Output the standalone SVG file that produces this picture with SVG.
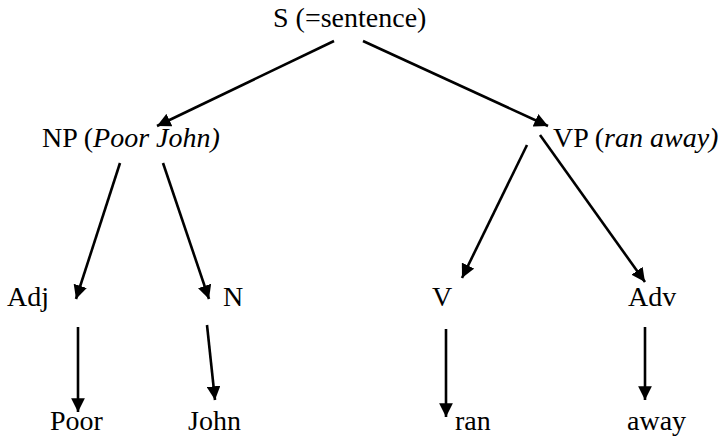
<svg xmlns="http://www.w3.org/2000/svg" width="725" height="439" viewBox="0 0 725 439">
  <style>
    .lbl { font-family: "Liberation Serif", "Times New Roman", serif; font-size: 28px; fill: #000; }
    .it { font-style: italic; }
    .edge { stroke: #000; stroke-width: 2.6; fill: none; marker-end: url(#arrow); }
  </style>
  <defs>
    <marker id="arrow" viewBox="0 0 10 10" refX="10" refY="5" markerWidth="5.3" markerHeight="5.3" markerUnits="strokeWidth" orient="auto">
      <path d="M0,0 L10,5 L0,10 z" fill="#000"/>
    </marker>
  </defs>
  <rect width="725" height="439" fill="#fff"/>

  <!-- connectors -->
  <g id="edges">
    <line class="edge" x1="334" y1="41" x2="157" y2="126"/>
    <line class="edge" x1="363" y1="41" x2="548" y2="126"/>
    <line class="edge" x1="120" y1="163" x2="76" y2="299"/>
    <line class="edge" x1="163" y1="163" x2="209" y2="299"/>
    <line class="edge" x1="527" y1="145" x2="462" y2="278"/>
    <line class="edge" x1="540" y1="135" x2="645" y2="282"/>
    <line class="edge" x1="78" y1="327" x2="78" y2="412"/>
    <line class="edge" x1="207" y1="325" x2="215" y2="400"/>
    <line class="edge" x1="446" y1="329" x2="446" y2="417"/>
    <line class="edge" x1="645" y1="327" x2="645" y2="400"/>
  </g>

  <!-- nodes -->
  <g id="node-s"><text class="lbl" x="273" y="27" font-family="Liberation Serif, serif">S (=sentence)</text></g>
  <g id="node-np"><text class="lbl" x="42" y="147" font-family="Liberation Serif, serif">NP (<tspan class="it">Poor John)</tspan></text></g>
  <g id="node-vp"><text class="lbl" x="553" y="147" font-family="Liberation Serif, serif">VP (<tspan class="it">ran away)</tspan></text></g>
  <g id="node-adj"><text class="lbl" x="7" y="306" font-family="Liberation Serif, serif">Adj</text></g>
  <g id="node-n"><text class="lbl" x="223" y="306" font-family="Liberation Serif, serif">N</text></g>
  <g id="node-v"><text class="lbl" x="432" y="306" font-family="Liberation Serif, serif">V</text></g>
  <g id="node-adv"><text class="lbl" x="628" y="306" font-family="Liberation Serif, serif">Adv</text></g>
  <g id="node-poor"><text class="lbl" x="50" y="430" font-family="Liberation Serif, serif">Poor</text></g>
  <g id="node-john"><text class="lbl" x="188" y="430" font-family="Liberation Serif, serif">John</text></g>
  <g id="node-ran"><text class="lbl" x="455" y="430" font-family="Liberation Serif, serif">ran</text></g>
  <g id="node-away"><text class="lbl" x="627" y="430" font-family="Liberation Serif, serif">away</text></g>
</svg>
